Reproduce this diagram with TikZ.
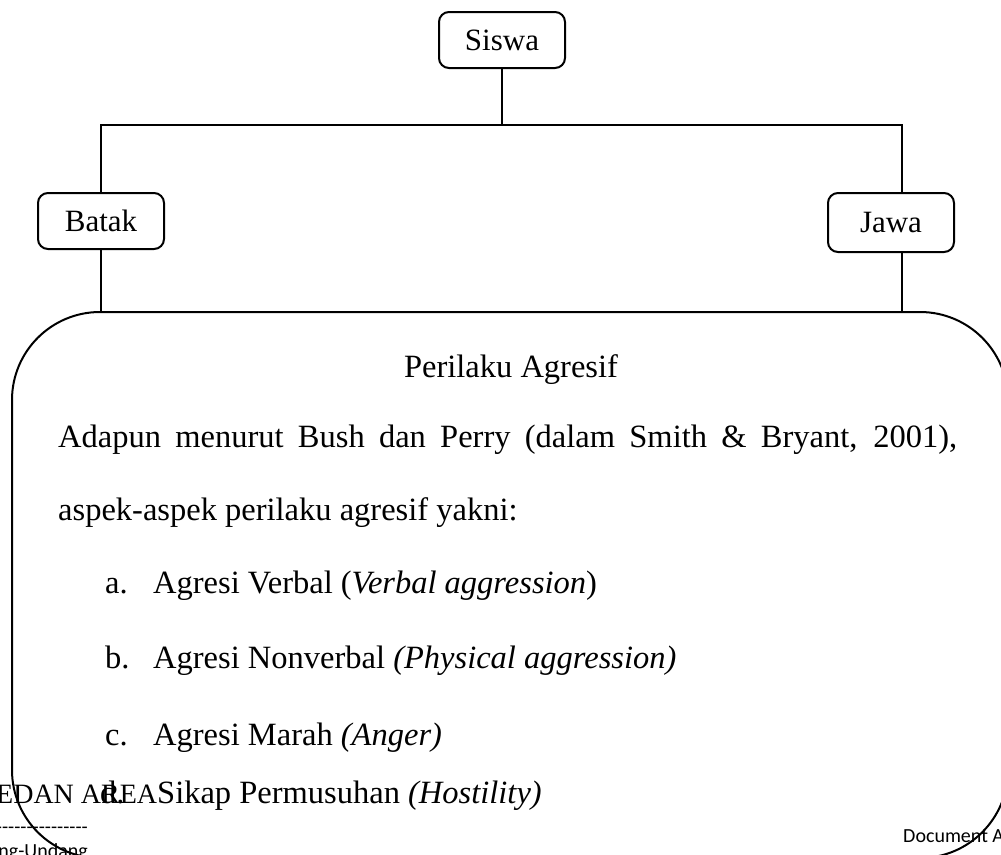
\documentclass[tikz,border=0pt]{standalone}
\usepackage{fontspec}
\setmainfont{Liberation Serif}
\newfontfamily\calfont{Carlito}
\begin{document}
\begin{tikzpicture}[x=1pt,y=-1pt,
  lbl/.style={draw, line width=2pt, rounded corners=10pt, minimum width=126pt, minimum height=56pt, font=\fontsize{31}{37}\selectfont, inner sep=0pt},
  txt/.style={anchor=base west, inner sep=0pt, font=\fontsize{32.5}{39}\selectfont},
  conn/.style={line width=2pt},
  small/.style={anchor=base west, inner sep=0pt, font=\calfont\fontsize{20}{24}\selectfont}]
\useasboundingbox (0,0) rectangle (1001,854);
\clip (0,0) rectangle (1001,854);
\node[lbl] (siswa) at (502,40) {Siswa};
\node[lbl] (batak) at (101,221) {Batak};
\node[lbl, minimum height=59pt] (jawa) at (891,222.5) {Jawa};
\node[draw, line width=2pt, rounded corners=88pt, minimum width=996pt, minimum height=546pt, inner sep=0pt] (panel) at (510,585) {};
\coordinate (bl) at (101,125);
\coordinate (br) at (902,125);
\draw[conn] (siswa.south) -- (siswa.south |- bl);
\draw[conn] (batak.north) -- (bl) -- (br) -- (br |- jawa.north);
\draw[conn] (batak.south) -- (batak.south |- panel.north);
\draw[conn] (br |- jawa.south) -- (br |- panel.north);
\node[txt, anchor=base] (title) at (511,377) {Perilaku Agresif};
\node[txt] (l1) at (58,447) {\makebox[899pt][s]{Adapun menurut Bush dan Perry (dalam Smith \& Bryant, 2001),}};
\node[txt] (l2) at (58,520) {aspek-aspek perilaku agresif yakni:};
\node[txt] (ma) at (105,593) {a.};
\node[txt] (ia) at (153,593) {Agresi Verbal (\textit{Verbal aggression})};
\node[txt] (mb) at (105,668) {b.};
\node[txt] (ib) at (153,668) {Agresi Nonverbal \textit{(Physical aggression)}};
\node[txt] (mc) at (105,745) {c.};
\node[txt] (ic) at (153,745) {Agresi Marah \textit{(Anger)}};
\node[txt] (md) at (100,803) {d.};
\node[txt, anchor=base west, font=\fontsize{28}{34}\selectfont] (wm) at (-4,803) {EDAN AREA};
\node[txt] (id) at (157,803) {Sikap Permusuhan \textit{(Hostility)}};
\node[small, anchor=base east] (dash) at (88,833) {----------------};
\node[small, anchor=base east] (law) at (88,857) {ng-Undang};
\node[small] (doc) at (903,842) {Document A};
\end{tikzpicture}
\end{document}
